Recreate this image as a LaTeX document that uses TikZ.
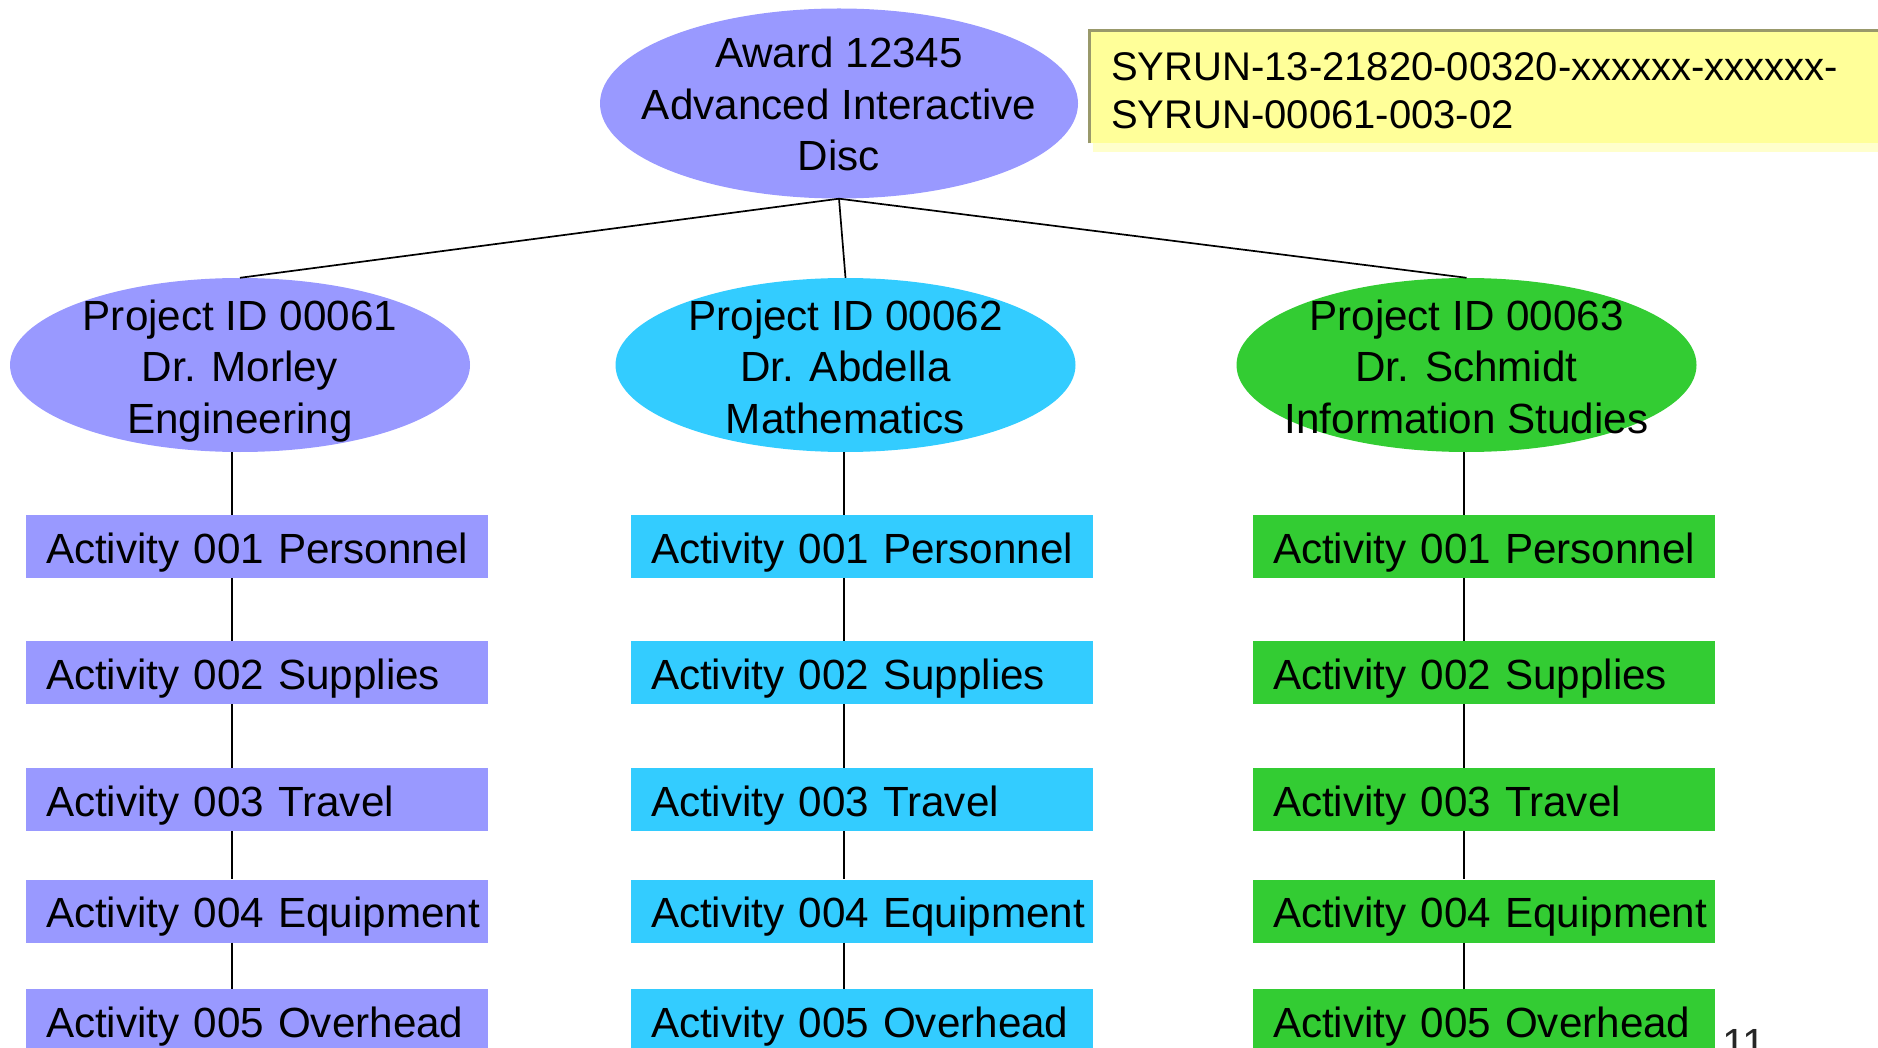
\documentclass[tikz,border=0pt]{standalone}
\usepackage{fontspec}
\setmainfont{Liberation Sans}
\usetikzlibrary{shapes.geometric}
\definecolor{lav}{HTML}{9999FF}
\definecolor{cyanb}{HTML}{33CCFF}
\definecolor{grn}{HTML}{33CC33}
\definecolor{yel}{HTML}{FFFF99}
\definecolor{olivebd}{HTML}{99996B}
\definecolor{shadowy}{HTML}{FFFFCC}
\tikzset{
  big/.style={font=\fontsize{42.2}{51.3}\selectfont},
  oval/.style={ellipse, draw=none, inner sep=0pt, minimum width=460pt, minimum height=174pt},
  ovaltext/.style={big, align=center, inner sep=0pt, execute at end node=\vphantom{g}},
  actbox/.style={rectangle, big, minimum width=462pt, minimum height=63pt, text width=422pt,
    inner xsep=20pt, inner ysep=0pt, text height=33pt, text depth=0pt, align=left},
  conn/.style={draw=black, line width=1.7pt},
  notebox/.style={rectangle, fill=yel, inner sep=0pt, minimum width=800pt, minimum height=112pt},
  notetext/.style={font=\fontsize{40}{48}\selectfont, align=left, inner sep=0pt},
}
\begin{document}
\begin{tikzpicture}[x=1pt,y=-1pt]
\useasboundingbox (0,0) rectangle (1878,1048);
% note box
\fill[shadowy] (1093,40) rectangle (1900,152);
\node[notebox, anchor=north west] (note) at (1089,31) {};
\draw[olivebd, line width=3pt] (note.south west) -- (note.north west) -- (note.north east);
\node[notetext, anchor=north west] (notet) at (1111,52.2)
  {SYRUN-13-21820-00320-xxxxxx-xxxxxx-\\SYRUN-00061-003-02};
% award
\node[oval, fill=lav, minimum width=478pt, minimum height=190pt] (award) at (839,103.5) {};
\node[ovaltext] (awardt) at (839,108.3) {Award 12345\\Advanced Interactive\\Disc};
% projects
\node[oval, fill=lav] (p1) at (240,365) {};
\node[oval, fill=cyanb] (p2) at (845.5,365) {};
\node[oval, fill=grn] (p3) at (1466.5,365) {};
\node[ovaltext] (p1t) at (240,371) {Project ID 00061\\Dr. Morley\\Engineering};
\node[ovaltext] (p2t) at (845.5,371) {Project ID 00062\\Dr. Abdella\\Mathematics};
\node[ovaltext] (p3t) at (1466.5,371) {Project ID 00063\\Dr. Schmidt\\Information Studies};
% activities
\foreach \c/\x/\col in {1/257/lav, 2/862/cyanb, 3/1484/grn} {
  \foreach \r/\y/\t in {1/546.5/Activity 001 Personnel, 2/672.5/Activity 002 Supplies,
      3/799.5/Activity 003 Travel, 4/911/Activity 004 Equipment, 5/1020.5/Activity 005 Overhead} {
    \node[actbox, fill=\col] (a\c\r) at (\x,\y) {\mbox{\t}};
  }
}
% column axes
\coordinate (c1) at (232,0);
\coordinate (c2) at (844,0);
\coordinate (c3) at (1464,0);
% connectors
\draw[conn] (award.south) -- (p1.north);
\draw[conn] (award.south) -- (p2.north);
\draw[conn] (award.south) -- (p3.north);
\foreach \c in {1,2,3} {
  \draw[conn] (p\c.south -| c\c) -- (a\c1.north -| c\c);
  \foreach \r/\n in {1/2,2/3,3/4,4/5} {
    \draw[conn] (a\c\r.south -| c\c) -- (a\c\n.north -| c\c);
  }
}
% page number
\node[big, anchor=base west, inner sep=0pt, text=black!85] (pagenum) at (1722,1058) {11};
\end{tikzpicture}
\end{document}
